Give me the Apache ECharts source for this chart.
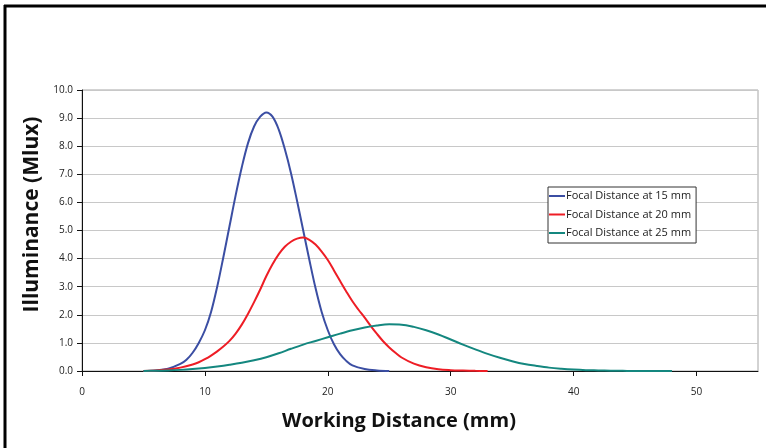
<!DOCTYPE html>
<html>
<head>
<meta charset="utf-8">
<script src="https://cdn.jsdelivr.net/npm/echarts@6/dist/echarts.min.js"></script>
<style>
html,body{margin:0;padding:0;background:#fff;}
#chart{width:766px;height:448px;}
</style>
</head>
<body>
<div id="chart"></div>
<script>
// Working distance (mm) sample points for each curve, values in Mlux
var xBlue = [5,6,7,8,8.5,9,9.5,10,10.5,11,11.5,12,12.5,13,13.5,14,14.5,15,15.5,16,16.5,17,17.5,18,18.5,19,19.5,20,20.5,21,21.5,22,23,24,25];
var yBlue = [0,0.02,0.08,0.25,0.4,0.65,1.0,1.45,2.1,3.0,4.05,5.15,6.25,7.25,8.1,8.7,9.05,9.2,9.05,8.6,7.9,7.05,6.05,5.0,3.95,2.95,2.1,1.45,0.95,0.6,0.36,0.2,0.07,0.02,0];

var xRed = [5,6,7,8,9,9.5,10,10.5,11,11.5,12,12.5,13,13.5,14,14.5,15,15.5,16,16.5,17,17.5,18,18.5,19,19.5,20,20.5,21,21.5,22,22.5,23,23.5,24,24.5,25,25.5,26,27,28,29,30,31,32,33];
var yRed = [0,0.02,0.05,0.12,0.23,0.31,0.42,0.55,0.7,0.87,1.07,1.33,1.65,2.03,2.45,2.9,3.38,3.8,4.15,4.42,4.6,4.71,4.75,4.67,4.5,4.25,3.95,3.58,3.2,2.83,2.48,2.18,1.9,1.6,1.32,1.06,0.84,0.65,0.48,0.26,0.13,0.06,0.03,0.015,0.005,0];

var xTeal = [5,6,7,8,9,10,11,12,13,14,15,16,17,18,19,20,21,22,23,24,25,26,27,28,29,30,31,32,33,34,35,36,37,38,39,40,41,42,43,44,45,46,47,48];
var yTeal = [0,0.01,0.02,0.04,0.07,0.11,0.16,0.22,0.29,0.38,0.49,0.63,0.79,0.94,1.07,1.2,1.33,1.45,1.55,1.62,1.66,1.65,1.57,1.45,1.3,1.12,0.94,0.77,0.61,0.47,0.35,0.25,0.18,0.12,0.08,0.05,0.03,0.02,0.01,0.005,0,0,0,0];

var seriesNames = ['Focal Distance at 15 mm','Focal Distance at 20 mm','Focal Distance at 25 mm'];
var seriesColors = ['#3b4ea3','#ee1d25','#14877f'];

var xTitle = 'Working Distance (mm)';
var yTitle = 'Illuminance (Mlux)';

function pairs(xs, ys){ return xs.map(function(x,i){ return [x, ys[i]]; }); }

var chart = echarts.init(document.getElementById('chart'), null, {renderer:'canvas'});
var font = 'Open Sans';

function lineSeries(i, xs, ys){
  return {name: seriesNames[i], type: 'line', data: pairs(xs, ys), smooth: 0.35, symbol: 'none',
    lineStyle: {color: seriesColors[i], width: 2}, itemStyle: {color: seriesColors[i]}};
}

var option = {
  backgroundColor: '#fff',
  animation: false,
  textStyle: {fontFamily: font},
  grid: {left: 82, right: 8, top: 90, bottom: 77, show: true, borderColor: '#a6a6a6', borderWidth: 1},
  legend: {
    orient: 'vertical',
    left: 548, top: 187,
    backgroundColor: '#fff',
    borderColor: '#333', borderWidth: 1,
    padding: [2, 5, 3, 1],
    itemGap: 4.5,
    icon: 'rect',
    itemWidth: 16, itemHeight: 2,
    textStyle: {fontSize: 11, lineHeight: 14, color: '#222', fontFamily: font, padding: [0,0,0,-4]},
    data: seriesNames
  },
  xAxis: {
    type: 'value', min: 0, max: 55, interval: 10,
    name: xTitle, nameLocation: 'middle', nameGap: 40,
    nameTextStyle: {fontSize: 20, fontWeight: 'bold', color: '#111', fontFamily: font, padding: [0, 42, 0, 0]},
    axisLine: {lineStyle: {color: '#111', width: 1}},
    axisTick: {show: true, inside: false, length: 5, lineStyle: {color: '#111'}},
    axisLabel: {fontSize: 10, color: '#222', margin: 16, showMaxLabel: false,
      formatter: function(v){ return v > 50 ? '' : String(v); }},
    splitLine: {show: false}
  },
  yAxis: {
    type: 'value', min: 0, max: 10, interval: 1,
    name: yTitle, nameLocation: 'middle', nameGap: 39, nameRotate: 90,
    nameTextStyle: {fontSize: 21, fontWeight: 'bold', color: '#111', fontFamily: font, padding: [0, 0, 0, 32]},
    axisLine: {show: true, lineStyle: {color: '#111', width: 1}},
    axisTick: {show: true, inside: false, length: 5, lineStyle: {color: '#111'}},
    axisLabel: {fontSize: 10, color: '#222', margin: 9,
      formatter: function(v){ return v.toFixed(1); }},
    splitLine: {show: true, lineStyle: {color: '#c8c8c8', width: 1}}
  },
  series: [
    lineSeries(0, xBlue, yBlue),
    lineSeries(1, xRed, yRed),
    lineSeries(2, xTeal, yTeal)
  ],
  graphic: [
    {type: 'line', shape: {x1: 4, y1: 6, x2: 766, y2: 6}, style: {stroke: '#000', lineWidth: 3}, silent: true},
    {type: 'line', shape: {x1: 5, y1: 5, x2: 5, y2: 448}, style: {stroke: '#000', lineWidth: 3}, silent: true}
  ]
};
chart.setOption(option);
</script>
</body>
</html>
